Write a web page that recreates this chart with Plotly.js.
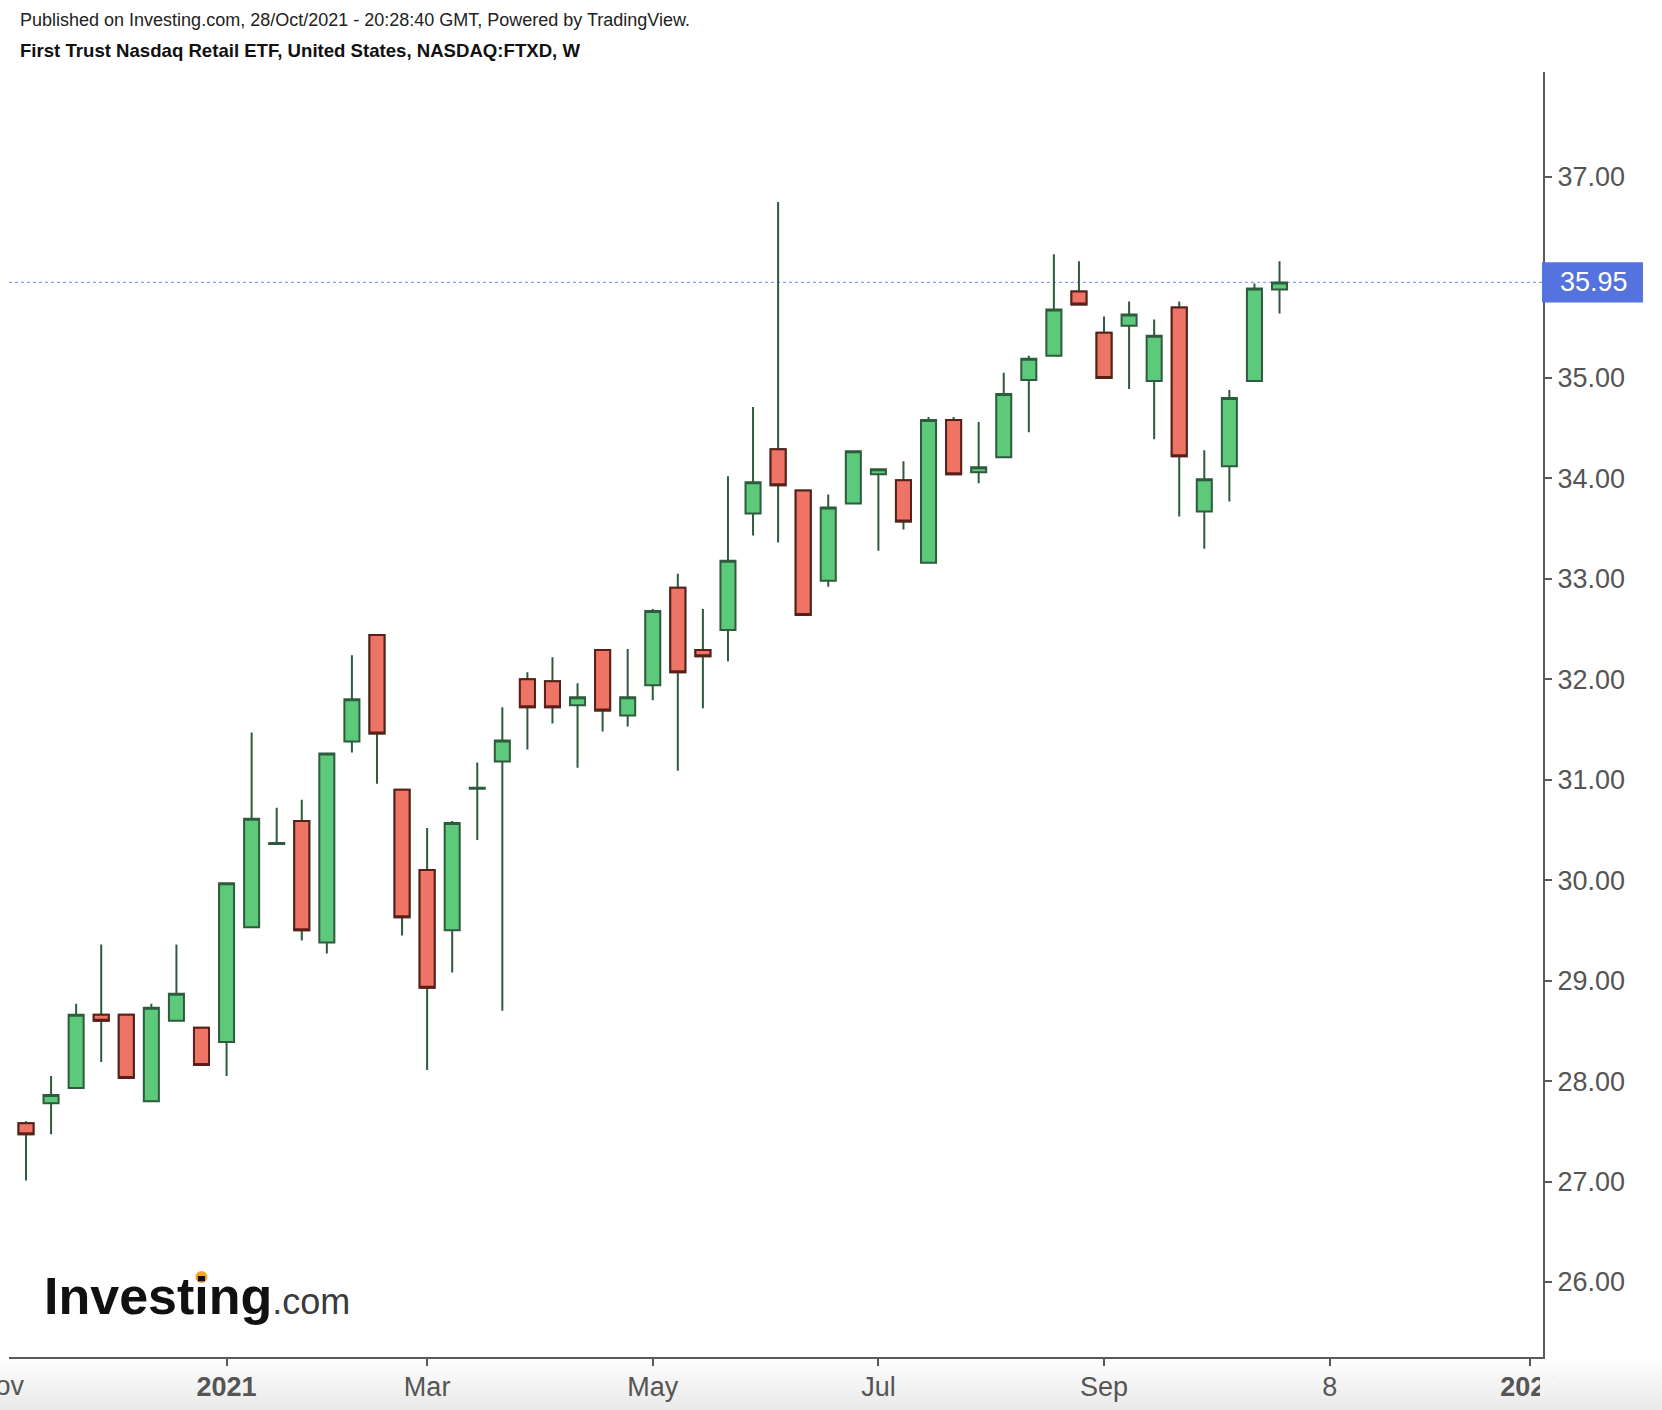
<!DOCTYPE html>
<html><head><meta charset="utf-8">
<script src="https://cdn.plot.ly/plotly-3.0.1.min.js"></script>
<style>html,body{margin:0;padding:0;background:#fff;}#chart{width:1662px;height:1410px;}</style>
</head><body><div id="chart"></div>
<script>
// ---- data (weekly candles, FTXD) ----
const weeks = ['2020-11-09','2020-11-16','2020-11-23','2020-11-30','2020-12-07','2020-12-14','2020-12-21','2020-12-28',
  '2021-01-04','2021-01-11','2021-01-18','2021-01-25','2021-02-01','2021-02-08','2021-02-15','2021-02-22',
  '2021-03-01','2021-03-08','2021-03-15','2021-03-22','2021-03-29','2021-04-05','2021-04-12','2021-04-19',
  '2021-04-26','2021-05-03','2021-05-10','2021-05-17','2021-05-24','2021-05-31','2021-06-07','2021-06-14',
  '2021-06-21','2021-06-28','2021-07-05','2021-07-12','2021-07-19','2021-07-26','2021-08-02','2021-08-09',
  '2021-08-16','2021-08-23','2021-08-30','2021-09-06','2021-09-13','2021-09-20','2021-09-27','2021-10-04',
  '2021-10-11','2021-10-18','2021-10-25'];
const openP  = [27.58,27.78,27.93,28.66,28.66,27.80,28.60,28.53,28.39,29.53,30.36,30.59,29.38,31.38,32.44,30.90,
  30.10,29.50,30.91,31.18,32.00,31.98,31.74,32.29,31.64,31.94,32.91,32.29,32.49,33.65,34.29,33.88,
  32.98,33.75,34.04,33.98,33.16,34.58,34.06,34.21,34.98,35.22,35.86,35.45,35.52,34.97,35.70,33.67,
  34.12,34.97,35.88];
const highP  = [27.60,28.05,28.77,29.36,28.67,28.77,29.36,28.54,29.98,31.47,30.72,30.80,31.27,32.24,32.45,30.91,
  30.52,30.59,31.17,31.72,32.07,32.22,31.96,32.30,32.30,32.70,33.05,32.70,34.02,34.71,36.75,33.89,
  33.84,34.28,34.10,34.17,34.61,34.61,34.56,35.05,35.22,36.23,36.16,35.61,35.76,35.58,35.76,34.28,
  34.88,35.94,36.16];
const lowP   = [27.01,27.47,27.92,28.19,28.03,27.79,28.59,28.16,28.05,29.52,30.35,29.40,29.27,31.27,30.96,29.45,
  28.11,29.08,30.40,28.70,31.30,31.56,31.12,31.48,31.53,31.79,31.09,31.71,32.18,33.43,33.36,32.64,
  32.92,33.74,33.28,33.49,33.15,34.04,33.95,34.20,34.46,35.21,35.73,35.00,34.89,34.39,33.62,33.30,
  33.77,34.96,35.64];
const closeP = [27.47,27.86,28.66,28.60,28.03,28.73,28.87,28.16,29.97,30.61,30.37,29.50,31.26,31.80,31.46,29.63,
  28.93,30.57,30.92,31.39,31.72,31.72,31.82,31.69,31.82,32.68,32.07,32.23,33.18,33.96,33.93,32.64,
  33.71,34.27,34.09,33.57,34.58,34.04,34.11,34.84,35.19,35.68,35.73,35.00,35.63,35.42,34.22,33.99,
  34.80,35.89,35.95];

const xTickDates  = ['2021-01-04','2021-03-01','2021-05-03','2021-07-05','2021-09-06','2021-11-08','2022-01-03'];
const xTickLabels = ['<b>2021</b>','Mar','May','Jul','Sep','8','<b>2022</b>'];
const leftCutLabel = {date:'2020-11-02', text:'Nov'};
const yTickVals   = [26,27,28,29,30,31,32,33,34,35,36,37];
const yTickLabels = ['26.00','27.00','28.00','29.00','30.00','31.00','32.00','33.00','34.00','35.00','','37.00'];
const headerLine1 = 'Published on Investing.com, 28/Oct/2021 - 20:28:40 GMT, Powered by TradingView.';
const headerLine2 = 'First Trust Nasdaq Retail ETF, United States, NASDAQ:FTXD, W';

// ---- geometry / style ----
const FONT = 'Liberation Sans, Arial, Helvetica, sans-serif';
const L = 8.5, R = 1543, T = 72, B = 1357;
const pw = R - L, ph = B - T;
const pxX = px => (px - L) / pw;
const pxY = py => (B - py) / ph;
const WEEK = 7 * 864e5;
const t0 = Date.parse(weeks[0] + 'T00:00:00Z');
const xr = [t0 - 0.678 * WEEK, t0 + 60.51 * WEEK];
const yr = [25.253, 38.045];
const lastClose = closeP[closeP.length - 1];

const WICK = '#2e5b3d', UPF = '#5cc97b', DNF = '#ee7466', DNB = '#5b1f1a';

const redIdx = closeP.map((c, i) => c < openP[i] ? i : -1).filter(i => i >= 0);

const traces = [
  {type:'candlestick', x:weeks, open:openP, high:highP, low:lowP, close:closeP,
   increasing:{line:{color:WICK,width:2}, fillcolor:UPF},
   decreasing:{line:{color:WICK,width:2}, fillcolor:DNF},
   whiskerwidth:0, hoverinfo:'skip', showlegend:false},
  {type:'candlestick', x:redIdx.map(i=>weeks[i]), open:redIdx.map(i=>openP[i]),
   high:redIdx.map(i=>openP[i]), low:redIdx.map(i=>closeP[i]), close:redIdx.map(i=>closeP[i]),
   increasing:{line:{color:DNB,width:2}, fillcolor:DNF},
   decreasing:{line:{color:DNB,width:2}, fillcolor:DNF},
   whiskerwidth:0, hoverinfo:'skip', showlegend:false}
];

// bottom gradient strips
const shapes = [];
const gTop = 1359, gBot = 1410, N = 14;
function grad(k){ const c0=253, c1=234; const v=Math.round(c0+(c1-c0)*k/(N-1)); return 'rgb('+v+','+v+','+v+')'; }
for (let k=0;k<N;k++){
  const y0 = gTop + (gBot-gTop)*k/N, y1 = gTop + (gBot-gTop)*(k+1)/N + 0.5;
  shapes.push({type:'rect', xref:'paper', yref:'paper', x0:pxX(-5), x1:pxX(1670), y0:pxY(y1), y1:pxY(y0),
    fillcolor:grad(k), line:{width:0}, layer:'below'});
  shapes.push({type:'rect', xref:'paper', yref:'paper', x0:pxX(1540), x1:pxX(1670), y0:pxY(y1), y1:pxY(Math.max(y0,1360)),
    fillcolor:grad(k), line:{width:0}, layer:'above'});
}
// last price line + label box
shapes.push({type:'line', xref:'paper', yref:'y', x0:0, x1:1, y0:lastClose, y1:lastClose,
  line:{color:'#8c9cf0', width:1.2, dash:'dot'}, layer:'below'});
shapes.push({type:'rect', xref:'paper', yref:'y', x0:pxX(1542), x1:pxX(1643), y0:lastClose-0.2, y1:lastClose+0.2,
  fillcolor:'#5573de', line:{width:0}, layer:'above'});
// logo dot
shapes.push({type:'circle', xref:'paper', yref:'paper', x0:pxX(195), x1:pxX(207), y0:pxY(1283), y1:pxY(1271),
  fillcolor:'#f5a623', line:{width:0}, layer:'above'});

const annotations = [
  {xref:'paper', yref:'paper', x:pxX(18), y:pxY(20), xanchor:'left', yanchor:'middle', showarrow:false,
   text:headerLine1, font:{family:FONT, size:18, color:'#222'}},
  {xref:'paper', yref:'paper', x:pxX(18), y:pxY(50), xanchor:'left', yanchor:'middle', showarrow:false,
   text:'<b>'+headerLine2+'</b>', font:{family:FONT, size:18.6, color:'#111'}},
  {xref:'paper', yref:'paper', x:pxX(42), y:pxY(1296), xanchor:'left', yanchor:'middle', showarrow:false,
   text:'<b>Investing</b><span style="font-size:36px;color:#3a3a3a">.com</span>',
   font:{family:FONT, size:52, color:'#111'}},
  {xref:'paper', yref:'paper', x:(Date.parse(leftCutLabel.date+'T00:00:00Z')-xr[0])/(xr[1]-xr[0]), y:pxY(1386),
   xanchor:'center', yanchor:'middle', showarrow:false, text:leftCutLabel.text, font:{family:FONT, size:27, color:'#555'}},
  {xref:'paper', yref:'y', x:pxX(1558), y:lastClose, xanchor:'left', yanchor:'middle', showarrow:false,
   text:lastClose.toFixed(2), font:{family:FONT, size:27, color:'#ffffff'}}
];

const layout = {
  width:1662, height:1410,
  margin:{l:L, r:1662-R, t:T, b:1410-B, pad:0},
  paper_bgcolor:'#ffffff', plot_bgcolor:'#ffffff',
  showlegend:false, boxgap:0.4, boxgroupgap:0, boxmode:'overlay',
  xaxis:{type:'date', range:xr, rangeslider:{visible:false}, showgrid:false, zeroline:false,
    showline:true, linecolor:'#5a5a5a', linewidth:2, ticks:'outside', ticklen:7, tickwidth:2, tickcolor:'#5a5a5a',
    tickmode:'array', tickvals:xTickDates, ticktext:xTickLabels, ticklabelstandoff:-2,
    tickfont:{family:FONT, size:27, color:'#555'}, fixedrange:true},
  yaxis:{side:'right', range:yr, showgrid:false, zeroline:false, showline:true, linecolor:'#5a5a5a', linewidth:2,
    ticks:'outside', ticklen:7, tickwidth:2, tickcolor:'#5a5a5a', tickmode:'array', tickvals:yTickVals, ticktext:yTickLabels,
    tickfont:{family:FONT, size:27, color:'#555'}, fixedrange:true},
  shapes:shapes, annotations:annotations
};

Plotly.newPlot('chart', traces, layout, {displayModeBar:false, staticPlot:true});
</script>
</body></html>
